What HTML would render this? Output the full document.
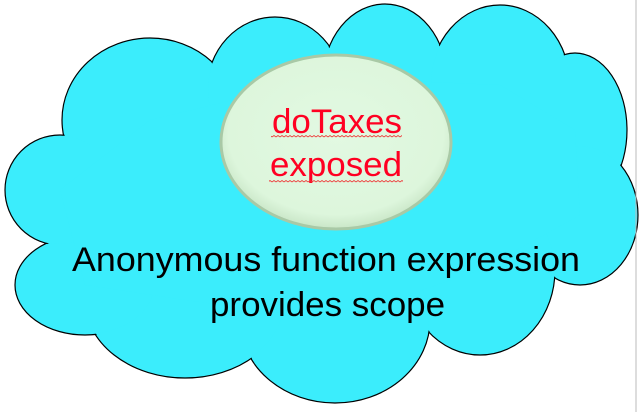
<!DOCTYPE html>
<html><head><style>html,body{margin:0;padding:0;background:#fff;}svg{display:block}</style></head>
<body>
<svg width="639" height="412" viewBox="0 0 639 412" xmlns="http://www.w3.org/2000/svg">
<defs>
<radialGradient id="g" cx="50%" cy="45%" r="55%">
<stop offset="0%" stop-color="#e2f9e2"/><stop offset="85%" stop-color="#ddf6dc"/><stop offset="100%" stop-color="#c9e6c7"/>
</radialGradient>
<pattern id="sq" width="4" height="3" patternUnits="userSpaceOnUse"><path d="M0 2 L2 0.5 L4 2" stroke="#e33" stroke-width="0.8" fill="none"/></pattern>
</defs>
<g stroke="#000" stroke-width="1.2" fill="#3bedfc">
<ellipse cx="150" cy="120" rx="88" ry="82"/>
<ellipse cx="275" cy="90" rx="68" ry="73"/>
<ellipse cx="385" cy="80" rx="62" ry="76"/>
<ellipse cx="500" cy="85" rx="70" ry="80"/>
<ellipse cx="575" cy="130" rx="52" ry="77"/>
<ellipse cx="580" cy="215" rx="58" ry="70"/>
<ellipse cx="480" cy="270" rx="75" ry="85"/>
<ellipse cx="335" cy="320" rx="95" ry="83"/>
<ellipse cx="185" cy="300" rx="100" ry="78"/>
<ellipse cx="85" cy="285" rx="70" ry="50"/>
<ellipse cx="60" cy="190" rx="55" ry="55"/>
</g>
<g fill="#3bedfc">
<ellipse cx="150" cy="120" rx="87" ry="81"/>
<ellipse cx="275" cy="90" rx="67" ry="72"/>
<ellipse cx="385" cy="80" rx="61" ry="75"/>
<ellipse cx="500" cy="85" rx="69" ry="79"/>
<ellipse cx="575" cy="130" rx="51" ry="76"/>
<ellipse cx="580" cy="215" rx="57" ry="69"/>
<ellipse cx="480" cy="270" rx="74" ry="84"/>
<ellipse cx="335" cy="320" rx="94" ry="82"/>
<ellipse cx="185" cy="300" rx="99" ry="77"/>
<ellipse cx="85" cy="285" rx="69" ry="49"/>
<ellipse cx="60" cy="190" rx="54" ry="54"/>
<polygon points="150,120 275,90 385,80 500,85 575,130 580,215 480,270 335,320 185,300 85,285 60,190"/>
</g>
<line x1="636" y1="0" x2="636" y2="412" stroke="#bbb" stroke-width="1"/>
<ellipse cx="336" cy="142" rx="115" ry="87" fill="url(#g)" stroke="#a9c9a6" stroke-width="3"/>
<g font-family="Liberation Sans, sans-serif" fill="#ff0022" font-size="34">
<text x="272" y="133" textLength="130" lengthAdjust="spacingAndGlyphs">doTaxes</text>
<text x="270" y="176" textLength="132" lengthAdjust="spacingAndGlyphs">exposed</text>
</g>
<rect x="271" y="135" width="131" height="3" fill="url(#sq)"/>
<rect x="269" y="180" width="134" height="3" fill="url(#sq)"/>
<g font-family="Liberation Sans, sans-serif" fill="#000" font-size="34">
<text x="72" y="271" textLength="508" lengthAdjust="spacingAndGlyphs">Anonymous function expression</text>
<text x="210" y="316" textLength="235" lengthAdjust="spacingAndGlyphs">provides scope</text>
</g>
</svg>
</body></html>
